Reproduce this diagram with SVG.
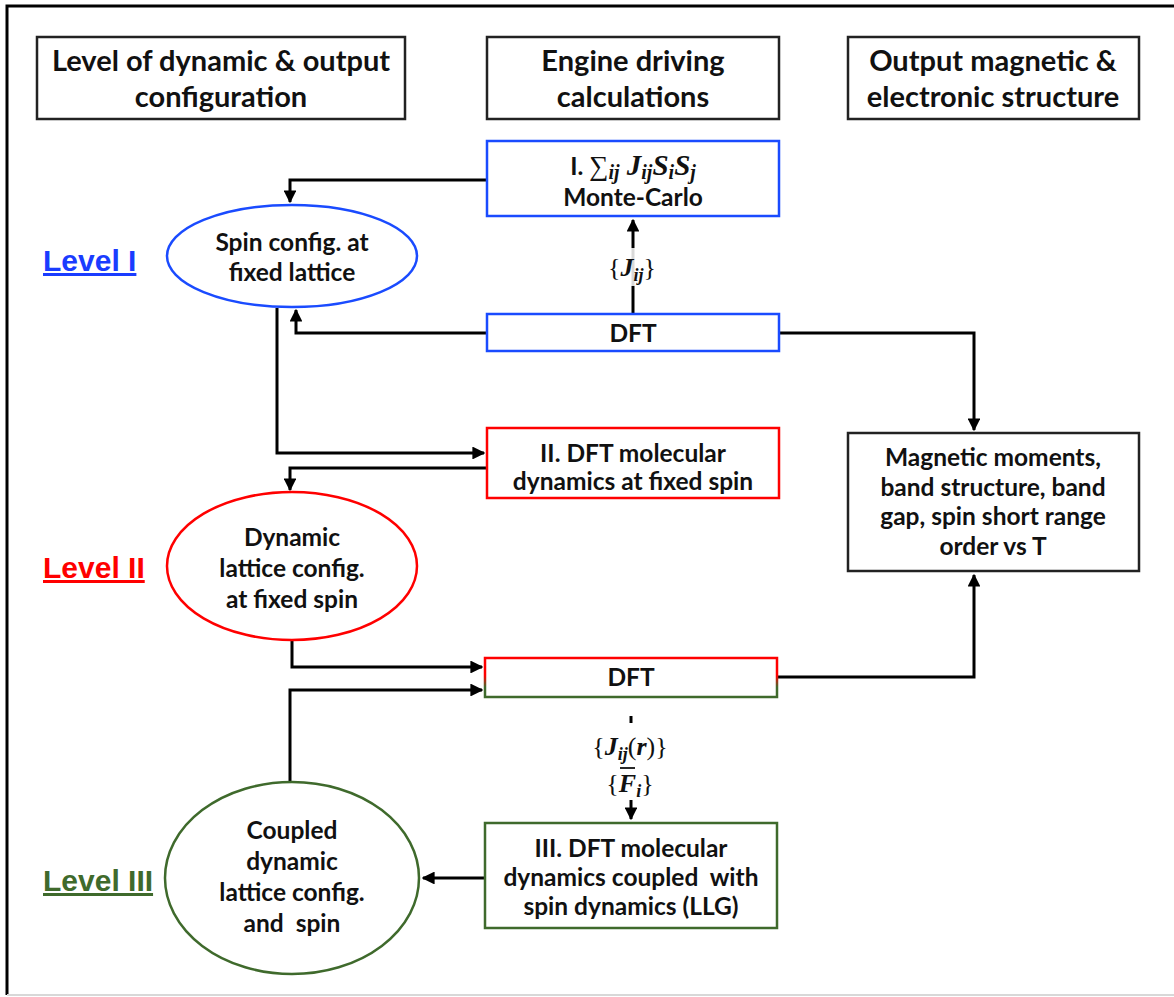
<svg xmlns="http://www.w3.org/2000/svg" width="1174" height="997" viewBox="0 0 1174 997">
<defs>
<style>
.t{font-family:Lato,"Liberation Sans",sans-serif;font-weight:bold;fill:#111;text-anchor:middle}
.h{font-size:29px}
.n{font-size:24.5px}
.m{font-family:"Liberation Serif","DejaVu Serif",serif;fill:#111;text-anchor:middle;font-size:26px}
.mi{font-style:italic;font-weight:bold}
.sb{font-size:18px}
.lv{font-family:"Liberation Sans",Arial,sans-serif;font-weight:bold;font-size:30px;text-decoration:underline}
.c{fill:none;stroke:#000;stroke-width:3}
.box{fill:#fff;stroke-width:2.5}
</style>
<marker id="ah" viewBox="0 0 10 10" refX="9" refY="5" markerWidth="4.3" markerHeight="4.3" orient="auto" markerUnits="strokeWidth">
<path d="M0,0L10,5L0,10z" fill="#000"/>
</marker>
<linearGradient id="rg" x1="0" y1="0" x2="0" y2="1">
<stop offset="0" stop-color="#ff0000"/>
<stop offset="0.45" stop-color="#ff0000"/>
<stop offset="0.75" stop-color="#3f6a2c"/>
<stop offset="1" stop-color="#3f6a2c"/>
</linearGradient>
</defs>
<rect width="1174" height="997" fill="#fff"/>
<path d="M1174,6H7V995" fill="none" stroke="#000" stroke-width="3"/>
<path d="M7,995H1174" stroke="#d8d8d8" stroke-width="2"/>

<g id="connectors">
<path class="c" d="M487,180H290V202" marker-end="url(#ah)"/>
<path class="c" d="M633,314V220" marker-end="url(#ah)"/>
<path class="c" d="M487,333H296V310" marker-end="url(#ah)"/>
<path class="c" d="M779,333H974V430" marker-end="url(#ah)"/>
<path class="c" d="M277,308V453H484" marker-end="url(#ah)"/>
<path class="c" d="M487,468H290V490" marker-end="url(#ah)"/>
<path class="c" d="M292,641V667H482" marker-end="url(#ah)"/>
<path class="c" d="M290,782V690H482" marker-end="url(#ah)"/>
<path class="c" d="M777,677H974V575" marker-end="url(#ah)"/>
<path class="c" d="M631,716V723"/>
<path class="c" d="M631,800V819" stroke-width="2.5" marker-end="url(#ah)"/>
<path class="c" d="M485,878H423" marker-end="url(#ah)"/>
<g>
<rect x="604" y="248" width="58" height="38" fill="#fff" opacity="0.85"/>
<text class="m" x="632" y="276">{<tspan class="mi">J</tspan><tspan class="mi sb" dy="5">ij</tspan><tspan dy="-5">}</tspan></text>
<text class="m" x="630" y="755">{<tspan class="mi">J</tspan><tspan class="mi sb" dy="5">ij</tspan><tspan dy="-5">(</tspan><tspan class="mi">r</tspan>)}</text>
<text class="m" x="630" y="792">{<tspan class="mi">F</tspan><tspan class="mi sb" dy="5">i</tspan><tspan dy="-5">}</tspan></text>
<path d="M620,768H635" stroke="#111" stroke-width="1.8"/>
</g>
</g>

<g id="hdr1"><rect class="box" x="37" y="37" width="368" height="82" stroke="#222"/>
<text class="t h" x="221" y="71">Level of dynamic &amp; output</text>
<text class="t h" x="221" y="107">configuration</text></g>
<g id="hdr2"><rect class="box" x="487" y="37" width="292" height="82" stroke="#222"/>
<text class="t h" x="633" y="71">Engine driving</text>
<text class="t h" x="633" y="107">calculations</text></g>
<g id="hdr3"><rect class="box" x="848" y="37" width="291" height="82" stroke="#222"/>
<text class="t h" x="993" y="71">Output magnetic &amp;</text>
<text class="t h" x="993" y="107">electronic structure</text></g>

<g id="lvl1"><text class="lv" x="43" y="271" fill="#1a3cff">Level I</text></g>
<g id="lvl2"><text class="lv" x="43" y="578" fill="#ff0000">Level II</text></g>
<g id="lvl3"><text class="lv" x="43" y="891" fill="#3f6a2c">Level III</text></g>

<g id="mc"><rect class="box" x="487" y="141" width="292" height="75" stroke="#1a4bff"/>
<text class="m" x="633" y="175" style="font-size:29px"><tspan class="t n">I. </tspan><tspan style="font-size:27px">∑</tspan><tspan class="mi" style="font-size:20px" dy="4">ij</tspan><tspan class="mi" dy="-4"> J</tspan><tspan class="mi" style="font-size:20px" dy="4">ij</tspan><tspan class="mi" dy="-4">S</tspan><tspan class="mi" style="font-size:20px" dy="4">i</tspan><tspan class="mi" dy="-4">S</tspan><tspan class="mi" style="font-size:20px" dy="4">j</tspan></text>
<text class="t n" x="633" y="206">Monte-Carlo</text></g>

<g id="dft1"><rect class="box" x="487" y="314" width="292" height="37" stroke="#1a4bff"/>
<text class="t n" x="633" y="342">DFT</text></g>

<g id="spin1"><ellipse cx="292" cy="256" rx="125" ry="51" fill="#fff" stroke="#1a4bff" stroke-width="2.5"/>
<text class="t n" x="292" y="251">Spin config. at</text>
<text class="t n" x="292" y="281">fixed lattice</text></g>

<g id="md2"><rect class="box" x="487" y="428" width="292" height="70" stroke="#ff0000"/>
<text class="t n" x="633" y="462">II. DFT molecular</text>
<text class="t n" x="633" y="490">dynamics at fixed spin</text></g>

<g id="lat2"><ellipse cx="292" cy="566" rx="125" ry="74" fill="#fff" stroke="#ff0000" stroke-width="2.5"/>
<text class="t n" x="292" y="546">Dynamic</text>
<text class="t n" x="292" y="577">lattice config.</text>
<text class="t n" x="292" y="608">at fixed spin</text></g>

<g id="dft2"><rect class="box" x="485" y="658" width="292" height="39" stroke="url(#rg)"/>
<text class="t n" x="631" y="686">DFT</text></g>

<g id="out"><rect class="box" x="848" y="433" width="291" height="138" stroke="#222"/>
<text class="t n" x="993" y="466">Magnetic moments,</text>
<text class="t n" x="993" y="496">band structure, band</text>
<text class="t n" x="993" y="525">gap, spin short range</text>
<text class="t n" x="993" y="555">order vs T</text></g>

<g id="md3"><rect class="box" x="485" y="823" width="292" height="105" stroke="#3f6a2c"/>
<text class="t n" x="631" y="857">III. DFT molecular</text>
<text class="t n" x="631" y="886" xml:space="preserve">dynamics coupled  with</text>
<text class="t n" x="631" y="915">spin dynamics (LLG)</text></g>

<g id="lat3"><ellipse cx="292" cy="878" rx="127" ry="96" fill="#fff" stroke="#3f6a2c" stroke-width="2.5"/>
<text class="t n" x="292" y="839">Coupled</text>
<text class="t n" x="292" y="870">dynamic</text>
<text class="t n" x="292" y="901">lattice config.</text>
<text class="t n" x="292" y="932" xml:space="preserve">and  spin</text></g>
</svg>
